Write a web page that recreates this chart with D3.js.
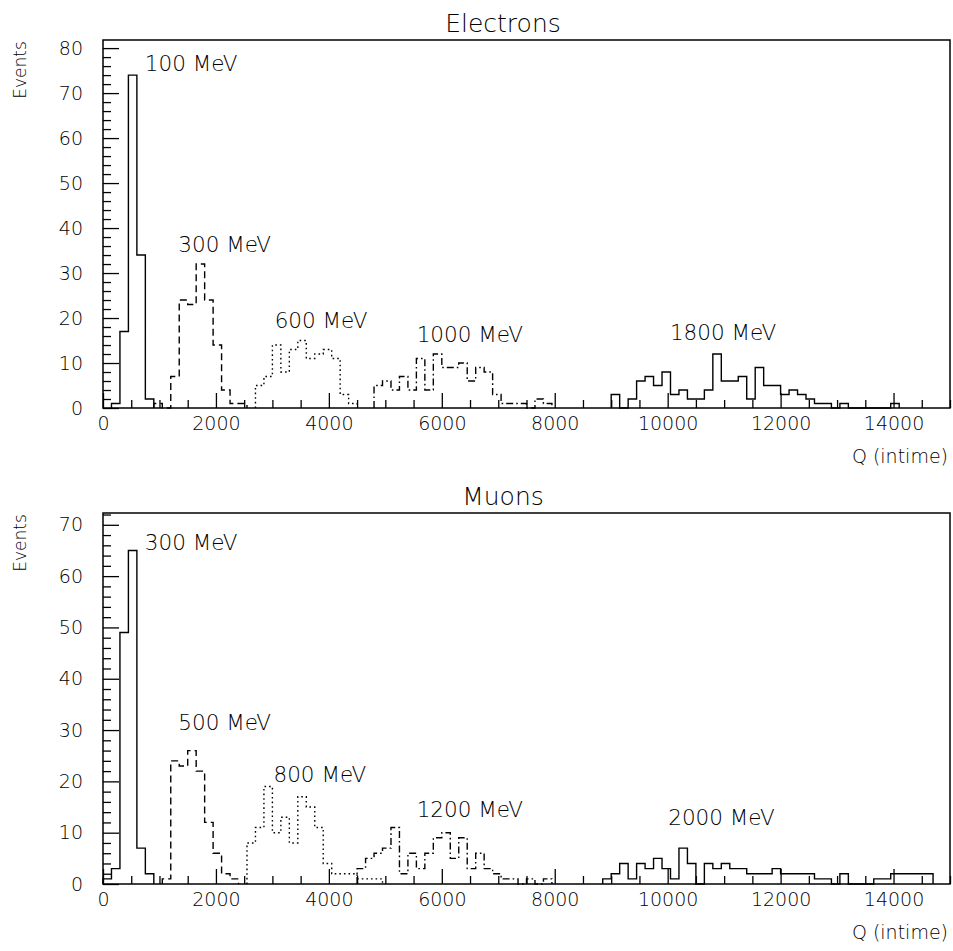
<!DOCTYPE html>
<html>
<head>
<meta charset="utf-8">
<script src="https://cdn.jsdelivr.net/npm/d3@7"></script>
<style>
  html, body { margin: 0; padding: 0; background: #fff; }
  svg text { font-family: "DejaVu Sans", "Roboto", sans-serif; font-weight: 200; fill: #000; }
</style>
</head>
<body>
<svg id="chart" width="953" height="951"></svg>
<script>
// ---------------- data ----------------
const binWidth = 150;
const xTicksMajor = [0, 2000, 4000, 6000, 8000, 10000, 12000, 14000];
const xTickLabels = ["0", "2000", "4000", "6000", "8000", "10000", "12000", "14000"];
const eYTicks = [0, 10, 20, 30, 40, 50, 60, 70, 80];
const mYTicks = [0, 10, 20, 30, 40, 50, 60, 70];

// Electrons: start Q of first bin, then counts per 150-wide bin
const e100Start = 150;   const e100 = [1, 17, 74, 34, 2];
const e300Start = 900;   const e300 = [1, 0, 7, 24, 23, 32, 24, 14, 4, 1, 1];
const e600Start = 2700;  const e600 = [5, 7, 14, 8, 13, 15, 11, 12, 13, 11, 3, 1];
const e1000Start = 4800; const e1000 = [5, 6, 4, 7, 4, 11, 4, 12, 9, 9, 10, 6, 9, 8, 3, 1, 1, 1, 0, 2, 1];
const e1800Start = 9000; const e1800 = [3, 0, 2, 6, 7, 5, 8, 3, 4, 2, 2, 4, 12, 6, 6, 7, 2, 9, 5, 5, 3, 4, 3, 2, 1, 1, 0, 1, 0, 0, 0, 0, 0, 1];

// Muons
const m300Start = 0;     const m300 = [1, 3, 49, 65, 7, 2];
const m500Start = 1050;  const m500 = [1, 24, 23, 26, 22, 12, 6, 2, 1];
const m800Start = 2550;  const m800 = [8, 11, 19, 10, 13, 8, 17, 15, 11, 4, 2, 2, 2, 1, 1, 1];
const m1200Start = 4500; const m1200 = [3, 5, 6, 7, 11, 2, 6, 3, 6, 9, 10, 5, 9, 3, 6, 3, 2, 1, 1, 0, 1, 0, 1];
const m2000Start = 8850; const m2000 = [1, 2, 4, 1, 4, 3, 5, 3, 1, 7, 4, 0, 4, 3, 4, 3, 3, 2, 2, 2, 3, 2, 2, 2, 2, 1, 1, 0, 2, 0, 0, 0, 1, 1, 2, 2, 2, 2, 2];

const eLabels = [
  {text: "100 MeV", q: 740, v: 75},
  {text: "300 MeV", q: 1334, v: 34.7},
  {text: "600 MeV", q: 3040, v: 17.8},
  {text: "1000 MeV", q: 5555, v: 14.7},
  {text: "1800 MeV", q: 10040, v: 15.1}
];
const mLabels = [
  {text: "300 MeV", q: 740, v: 65},
  {text: "500 MeV", q: 1334, v: 30},
  {text: "800 MeV", q: 3020, v: 19.9},
  {text: "1200 MeV", q: 5555, v: 13.1},
  {text: "2000 MeV", q: 10010, v: 11.5}
];

const styles = {
  solid: null,
  dashed: "7,4",
  dotted: "1.6,3",
  dashdot: "7,3,1.6,3"
};

// ---------------- drawing ----------------
const svg = d3.select("#chart");
const x = d3.scaleLinear().domain([0, 15000]).range([103, 950]);
const FONT = "'DejaVu Sans', Roboto, sans-serif";

function panel(cfg) {
  const y = d3.scaleLinear().domain([0, cfg.ymax]).range([cfg.bottom, cfg.top]);
  const g = svg.append("g");

  // histograms
  const line = d3.line().x(d => x(d[0])).y(d => y(d[1]));
  cfg.series.forEach(s => {
    const pts = [[s.start, 0]];
    s.values.forEach((v, i) => {
      const a = s.start + i * binWidth;
      pts.push([a, v]);
      pts.push([a + binWidth, v]);
    });
    pts.push([s.start + s.values.length * binWidth, 0]);
    g.append("path")
      .attr("d", line(pts))
      .attr("fill", "none")
      .attr("stroke", "#000")
      .attr("stroke-width", 1.4)
      .attr("stroke-dasharray", styles[s.style]);
  });

  // x axis: minor ticks
  const minor = d3.range(0, 15001, 500).filter(v => v % 2000 !== 0);
  g.append("g")
    .attr("transform", `translate(0,${cfg.bottom})`)
    .call(d3.axisBottom(x).tickValues(minor).tickSize(-8).tickFormat(""))
    .call(a => a.select(".domain").remove())
    .call(a => a.selectAll("line").attr("stroke-width", 1.3));
  // x axis: major ticks with labels
  g.append("g")
    .attr("transform", `translate(0,${cfg.bottom})`)
    .call(d3.axisBottom(x).tickValues(xTicksMajor).tickSize(-15).tickPadding(9)
      .tickFormat((d, i) => xTickLabels[i]))
    .call(a => a.select(".domain").remove())
    .call(a => a.selectAll("line").attr("stroke-width", 1.3))
    .call(a => a.selectAll("text").attr("font-size", 19)
      .style("font-family", FONT).style("font-weight", 200));

  // y axis
  const yMinor = d3.range(0, cfg.ymax, 2).filter(v => v % 10 !== 0);
  g.append("g")
    .attr("transform", `translate(${x(0)},0)`)
    .call(d3.axisLeft(y).tickValues(yMinor).tickSize(-8).tickFormat(""))
    .call(a => a.select(".domain").remove())
    .call(a => a.selectAll("line").attr("stroke-width", 1.3));
  g.append("g")
    .attr("transform", `translate(${x(0)},0)`)
    .call(d3.axisLeft(y).tickValues(cfg.yTicks).tickSize(-16).tickPadding(20).tickFormat(d3.format("d")))
    .call(a => a.select(".domain").remove())
    .call(a => a.selectAll("line").attr("stroke-width", 1.3))
    .call(a => a.selectAll("text").attr("font-size", 19)
      .style("font-family", FONT).style("font-weight", 200));

  // frame
  g.append("rect")
    .attr("x", x(0)).attr("y", cfg.top)
    .attr("width", x(15000) - x(0)).attr("height", cfg.bottom - cfg.top)
    .attr("fill", "none").attr("stroke", "#000").attr("stroke-width", 1.5);

  // title
  g.append("text").attr("x", 503).attr("y", cfg.top - 8)
    .attr("text-anchor", "middle").attr("font-size", 25).text(cfg.title);

  // axis titles
  g.append("text").attr("x", 948).attr("y", cfg.bottom + 55)
    .attr("text-anchor", "end").attr("font-size", 19).text("Q (intime)");
  g.append("text")
    .attr("transform", `translate(26,${cfg.top + 30}) rotate(-90)`)
    .attr("text-anchor", "middle").attr("font-size", 17).text("Events");

  // energy labels
  cfg.labels.forEach(l => {
    g.append("text").attr("x", x(l.q)).attr("y", y(l.v))
      .attr("font-size", 21.5).text(l.text);
  });
}

panel({
  title: "Electrons", top: 40, bottom: 408, ymax: 81.8, yTicks: eYTicks, labels: eLabels,
  series: [
    {start: e100Start, values: e100, style: "solid"},
    {start: e300Start, values: e300, style: "dashed"},
    {start: e600Start, values: e600, style: "dotted"},
    {start: e1000Start, values: e1000, style: "dashdot"},
    {start: e1800Start, values: e1800, style: "solid"}
  ]
});

panel({
  title: "Muons", top: 513, bottom: 884, ymax: 72.3, yTicks: mYTicks, labels: mLabels,
  series: [
    {start: m300Start, values: m300, style: "solid"},
    {start: m500Start, values: m500, style: "dashed"},
    {start: m800Start, values: m800, style: "dotted"},
    {start: m1200Start, values: m1200, style: "dashdot"},
    {start: m2000Start, values: m2000, style: "solid"}
  ]
});
</script>
</body>
</html>
